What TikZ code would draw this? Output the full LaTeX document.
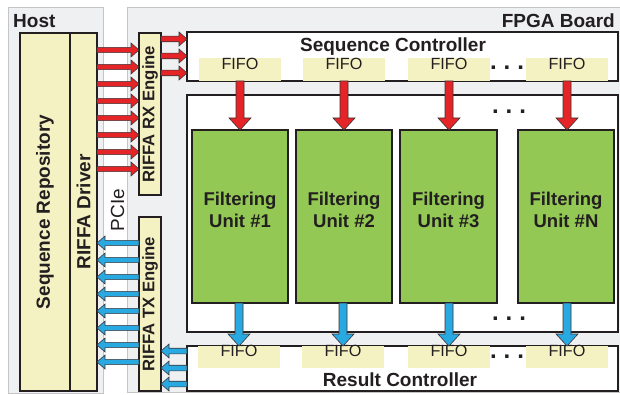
\documentclass[tikz,border=0pt]{standalone}
\usepackage{fontspec}
\setmainfont{Liberation Sans}
\usetikzlibrary{calc,fit}
\definecolor{panelfill}{HTML}{EFF0F2}
\definecolor{panelline}{HTML}{C4C5C8}
\definecolor{boxline}{HTML}{231F20}
\definecolor{txt}{HTML}{231F20}
\definecolor{ylw}{HTML}{F4F2C2}
\definecolor{unitfill}{HTML}{92C853}
\definecolor{redarrow}{HTML}{E42427}
\definecolor{bluearrow}{HTML}{29A9E1}
\definecolor{arrowline}{HTML}{3A3536}
% #1 colour, #2 from, #3 to, #4 half shaft, #5 half head, #6 head length
\newcommand\blockarrow[6]{%
  \coordinate (ba-c) at ($(#3)!#6!(#2)$);
  \filldraw[fill=#1, draw=arrowline, line width=0.6pt, line join=miter]
    ($(#2)!#4!90:(#3)$) -- ($(ba-c)!#4!90:(#3)$) -- ($(ba-c)!#5!90:(#3)$) -- (#3)
    -- ($(ba-c)!#5!-90:(#3)$) -- ($(ba-c)!#4!-90:(#3)$) -- ($(#2)!#4!-90:(#3)$) -- cycle;
}
\tikzset{
  panel/.style={fill=panelfill, draw=panelline, line width=1pt, inner sep=0pt, outer sep=0pt},
  box/.style={draw=boxline, line width=1.1pt, inner sep=0pt, outer sep=0pt, text=txt},
  ybox/.style={box, fill=ylw},
  wbox/.style={box, fill=white},
  unit/.style={box, fill=unitfill, align=center, font=\fontsize{18.5}{22.5}\selectfont\bfseries},
  fifo/.style={fill=ylw, inner sep=0pt, outer sep=0pt, text=txt, font=\fontsize{16.2}{19}\selectfont},
  lbl/.style={inner sep=0pt, text=txt, font=\fontsize{19}{22}\selectfont\bfseries},
  vlbl/.style={lbl, rotate=90},
  dots/.style={inner sep=0pt, text=txt, font=\fontsize{24}{24}\selectfont\bfseries},
}
\begin{document}
\begin{tikzpicture}[x=1pt,y=-1pt]
\useasboundingbox (0,0) rectangle (620,395);
\fill[white] (0,0) rectangle (620,395);
% panels
\node[panel, fit={(8,8) (103,393)}] (hostp) {};
\node[fill=panelfill, inner sep=0pt, outer sep=0pt, fit={(127,8) (620,392)}] (fpgap) {};
\draw[panelline, line width=1pt] (fpgap.north east) -- (fpgap.north west) -- (fpgap.south west) -- (fpgap.south east);
\node[lbl, anchor=base west] (hostlbl) at (13,28) {Host};
\node[lbl, anchor=base east] (fpgalbl) at (615,28) {FPGA Board};
% host boxes
\node[ybox, fit={(20,33) (70,391)}] (repo) {};
\node[vlbl] (repolbl) at (repo.center) {Sequence Repository};
\node[ybox, fit={(70,33) (97,391)}] (drv) {};
\node[vlbl] (drvlbl) at (drv.center) {RIFFA Driver};
% engines
\node[ybox, fit={(139,33) (161,195)}] (rx) {};
\node[vlbl, font=\fontsize{16.7}{20}\selectfont\bfseries] (rxlbl) at (rx.center) {RIFFA RX Engine};
\node[ybox, fit={(139,217) (161,391)}] (tx) {};
\node[vlbl, font=\fontsize{16.7}{20}\selectfont\bfseries] (txlbl) at (tx.center) {RIFFA TX Engine};
\node[inner sep=0pt, text=txt, rotate=90, font=\fontsize{19}{22}\selectfont] (pcie) at (117.5,210) {PCIe};
% sequence controller
\node[wbox, fit={(187,32) (618,81)}] (seq) {};
\node[lbl, anchor=base] (seqlbl) at (393,52) {Sequence Controller};
\node[fifo, fit={(199,58) (281,81)}] (sf1) {FIFO};
\node[fifo, fit={(303,58) (385,81)}] (sf2) {FIFO};
\node[fifo, fit={(408,58) (490,81)}] (sf3) {FIFO};
\node[fifo, fit={(526,58) (608,81)}] (sf4) {FIFO};
\node[dots] (sdots) at (507,68) {.\hspace{7pt}.\hspace{7pt}.};
% filter area
\node[wbox, fit={(187,95) (618,332)}] (farea) {};
\node[unit, fit={(192,130) (288,303)}] (u1) {Filtering\\Unit \#1};
\node[unit, fit={(296,130) (392,303)}] (u2) {Filtering\\Unit \#2};
\node[unit, fit={(400,130) (497,303)}] (u3) {Filtering\\Unit \#3};
\node[unit, fit={(518,130) (614,303)}] (u4) {Filtering\\Unit \#N};
\node[dots] (fdots1) at (509,112) {.\hspace{7pt}.\hspace{7pt}.};
\node[dots] (fdots2) at (509,319) {.\hspace{7pt}.\hspace{7pt}.};
% result controller
\node[wbox, fit={(187,346) (618,391)}] (res) {};
\node[lbl, anchor=base] (reslbl) at (400,386) {Result Controller};
\node[fifo, fit={(198,346) (280,368)}] (rf1) {FIFO};
\node[fifo, fit={(302,346) (384,368)}] (rf2) {FIFO};
\node[fifo, fit={(408,346) (490,368)}] (rf3) {FIFO};
\node[fifo, fit={(526,346) (608,368)}] (rf4) {FIFO};
\node[dots] (rdots) at (507,357) {.\hspace{7pt}.\hspace{7pt}.};
% host -> RX arrows
\foreach \i in {0,...,7} {
  \coordinate (a\i) at (drv.east |- 0,{50+17*\i});
  \coordinate (b\i) at (rx.west |- 0,{50+17*\i});
  \blockarrow{redarrow}{a\i}{b\i}{2.6pt}{7pt}{8pt}
}
% TX -> host arrows
\foreach \i in {0,...,7} {
  \coordinate (c\i) at (tx.west |- 0,{243+17*\i});
  \coordinate (d\i) at (drv.east |- 0,{243+17*\i});
  \blockarrow{bluearrow}{c\i}{d\i}{2.6pt}{7pt}{8pt}
}
% RX -> sequence controller
\foreach \y [count=\i] in {39,56,73} {
  \coordinate (e\i) at (rx.east |- 0,\y);
  \coordinate (f\i) at (seq.west |- 0,\y);
  \blockarrow{redarrow}{e\i}{f\i}{2.8pt}{7pt}{8pt}
}
% result controller -> TX
\foreach \y [count=\i] in {351,368,384} {
  \coordinate (g\i) at (res.west |- 0,\y);
  \coordinate (h\i) at (tx.east |- 0,\y);
  \blockarrow{bluearrow}{g\i}{h\i}{2.8pt}{7pt}{8pt}
}
% vertical arrows
\foreach \i in {1,...,4} {
  \coordinate (p\i) at (sf\i.south);
  \coordinate (q\i) at (sf\i.south |- u\i.north);
  \blockarrow{redarrow}{p\i}{q\i}{4pt}{11pt}{12pt}
  \coordinate (r\i) at (rf\i.north |- u\i.south);
  \coordinate (s\i) at (rf\i.north);
  \blockarrow{bluearrow}{r\i}{s\i}{4pt}{11pt}{12pt}
}
\end{tikzpicture}
\end{document}
